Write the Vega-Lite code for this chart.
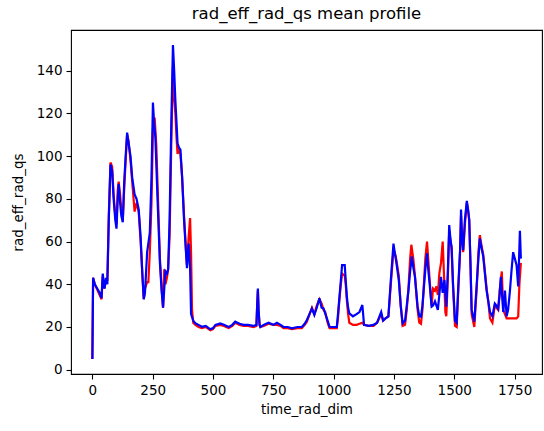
{
  "$schema": "https://vega.github.io/schema/vega-lite/v6.json",
  "width": 471,
  "height": 344,
  "autosize": {"type": "none"},
  "padding": {"left": 71, "top": 30, "right": 2, "bottom": 57},
  "background": "white",
  "title": {"text": "rad_eff_rad_qs mean profile", "font": "DejaVu Sans", "fontSize": 16.5, "fontWeight": "normal", "color": "#000", "offset": 8, "anchor": "middle"},
  "config": {
    "view": {"stroke": "#000", "strokeWidth": 1.1},
    "axis": {"domain": false, "grid": false, "tickColor": "#000", "tickSize": 5, "tickWidth": 1.1, "labelFont": "DejaVu Sans", "labelFontSize": 13.5, "labelColor": "#000", "titleFont": "DejaVu Sans", "titleFontSize": 13.5, "titleFontWeight": "normal", "titleColor": "#000", "labelPadding": 4}
  },
  "datasets": {
    "blue": [
      {"t":0,"v":5},{"t":3,"v":43},{"t":10,"v":40},{"t":20,"v":38},{"t":30,"v":36},{"t":38,"v":33.5},{"t":43,"v":45},{"t":50,"v":38},{"t":57,"v":43},{"t":62,"v":40},{"t":68,"v":70},{"t":75,"v":96},{"t":82,"v":93},{"t":88,"v":80},{"t":95,"v":70},{"t":100,"v":66},{"t":105,"v":80},{"t":109,"v":87},{"t":115,"v":78},{"t":120,"v":72},{"t":126,"v":69},{"t":132,"v":88},{"t":138,"v":100},{"t":144,"v":111},{"t":150,"v":106},{"t":158,"v":100},{"t":165,"v":90},{"t":175,"v":82},{"t":183,"v":80},{"t":192,"v":75},{"t":200,"v":62},{"t":207,"v":45},{"t":213,"v":33},{"t":218,"v":36},{"t":227,"v":55},{"t":238,"v":64},{"t":245,"v":90},{"t":251,"v":125},{"t":256,"v":115},{"t":261,"v":109},{"t":270,"v":80},{"t":280,"v":50},{"t":287,"v":37},{"t":293,"v":29},{"t":298,"v":38},{"t":303,"v":46},{"t":309,"v":45},{"t":314,"v":47},{"t":320,"v":70},{"t":327,"v":115},{"t":334,"v":152},{"t":339,"v":140},{"t":344,"v":126},{"t":349,"v":115},{"t":353,"v":106},{"t":359,"v":104},{"t":365,"v":103},{"t":372,"v":90},{"t":380,"v":70},{"t":388,"v":55},{"t":392,"v":47.5},{"t":399,"v":59},{"t":405,"v":47.5},{"t":409,"v":26},{"t":418,"v":23},{"t":427,"v":21.7},{"t":440,"v":21},{"t":454,"v":20.1},{"t":470,"v":20.5},{"t":489,"v":18.9},{"t":500,"v":19.5},{"t":510,"v":21},{"t":530,"v":21.7},{"t":545,"v":21},{"t":565,"v":20},{"t":580,"v":21},{"t":592,"v":22.5},{"t":610,"v":21.5},{"t":627,"v":21},{"t":645,"v":21},{"t":668,"v":20.5},{"t":680,"v":21},{"t":683,"v":30},{"t":686,"v":38},{"t":689,"v":28},{"t":693,"v":21},{"t":696,"v":20},{"t":710,"v":21},{"t":730,"v":22},{"t":750,"v":21},{"t":765,"v":22},{"t":780,"v":21},{"t":792,"v":20},{"t":810,"v":20},{"t":827,"v":19.4},{"t":850,"v":20},{"t":868,"v":20},{"t":880,"v":21.5},{"t":889,"v":23.3},{"t":900,"v":26},{"t":910,"v":28.7},{"t":920,"v":25.6},{"t":930,"v":29},{"t":941,"v":33.4},{"t":950,"v":29},{"t":958,"v":28.7},{"t":965,"v":26.4},{"t":975,"v":23},{"t":983,"v":20.1},{"t":1000,"v":20},{"t":1013,"v":20},{"t":1018,"v":26},{"t":1024,"v":34},{"t":1030,"v":42},{"t":1035,"v":49},{"t":1046,"v":49},{"t":1050,"v":42},{"t":1055,"v":34},{"t":1060,"v":29},{"t":1065,"v":26.4},{"t":1080,"v":25},{"t":1095,"v":26},{"t":1107,"v":27},{"t":1119,"v":30.3},{"t":1126,"v":21},{"t":1145,"v":20.5},{"t":1165,"v":21},{"t":1180,"v":22},{"t":1197,"v":27},{"t":1205,"v":23},{"t":1215,"v":24},{"t":1227,"v":25},{"t":1237,"v":42},{"t":1248,"v":59},{"t":1253,"v":55},{"t":1259,"v":51},{"t":1270,"v":42},{"t":1278,"v":30},{"t":1286,"v":21.7},{"t":1296,"v":23},{"t":1303,"v":30},{"t":1310,"v":37},{"t":1317,"v":46},{"t":1324,"v":53},{"t":1330,"v":48},{"t":1337,"v":43.5},{"t":1348,"v":29.5},{"t":1355,"v":25},{"t":1362,"v":24.8},{"t":1368,"v":30},{"t":1373,"v":37},{"t":1380,"v":47},{"t":1387,"v":54.5},{"t":1392,"v":47},{"t":1398,"v":40},{"t":1406,"v":29.5},{"t":1412,"v":30},{"t":1420,"v":32},{"t":1426,"v":30},{"t":1432,"v":28},{"t":1438,"v":35},{"t":1445,"v":43.5},{"t":1452,"v":36},{"t":1459,"v":42},{"t":1467,"v":29.5},{"t":1473,"v":45},{"t":1479,"v":67.7},{"t":1485,"v":60},{"t":1489,"v":57.6},{"t":1495,"v":40},{"t":1503,"v":23},{"t":1510,"v":22},{"t":1517,"v":40},{"t":1524,"v":56},{"t":1528,"v":75},{"t":1532,"v":62},{"t":1537,"v":56},{"t":1544,"v":70},{"t":1552,"v":79},{"t":1557,"v":75},{"t":1562,"v":70},{"t":1567,"v":50},{"t":1572,"v":28},{"t":1583,"v":22.5},{"t":1593,"v":40},{"t":1600,"v":52},{"t":1606,"v":61.5},{"t":1613,"v":57},{"t":1620,"v":53},{"t":1627,"v":45},{"t":1634,"v":37},{"t":1641,"v":32},{"t":1648,"v":27},{"t":1658,"v":25},{"t":1668,"v":31},{"t":1675,"v":30},{"t":1682,"v":28.5},{"t":1688,"v":35},{"t":1693,"v":43.5},{"t":1698,"v":35},{"t":1703,"v":27},{"t":1710,"v":37},{"t":1717,"v":25},{"t":1723,"v":28},{"t":1730,"v":36},{"t":1737,"v":46},{"t":1744,"v":55},{"t":1751,"v":52},{"t":1758,"v":49},{"t":1765,"v":39},{"t":1772,"v":65},{"t":1776,"v":52}
    ],
    "red": [
      {"t":0,"v":5},{"t":3,"v":43},{"t":10,"v":40},{"t":20,"v":37.5},{"t":30,"v":35},{"t":38,"v":33},{"t":43,"v":44},{"t":50,"v":38},{"t":57,"v":42},{"t":62,"v":42},{"t":68,"v":72},{"t":75,"v":97},{"t":82,"v":95},{"t":88,"v":82},{"t":95,"v":72},{"t":100,"v":68},{"t":105,"v":84},{"t":109,"v":88},{"t":115,"v":82},{"t":120,"v":75},{"t":126,"v":70},{"t":132,"v":85},{"t":138,"v":98},{"t":144,"v":110},{"t":150,"v":107},{"t":158,"v":98},{"t":165,"v":88},{"t":175,"v":74},{"t":183,"v":78},{"t":192,"v":74},{"t":200,"v":60},{"t":207,"v":45},{"t":213,"v":33},{"t":218,"v":38},{"t":227,"v":41},{"t":232,"v":41},{"t":238,"v":55},{"t":245,"v":78},{"t":251,"v":112},{"t":258,"v":118},{"t":265,"v":105},{"t":272,"v":80},{"t":280,"v":52},{"t":287,"v":38},{"t":293,"v":29},{"t":298,"v":47},{"t":303,"v":40},{"t":309,"v":43},{"t":314,"v":47},{"t":320,"v":62},{"t":327,"v":105},{"t":334,"v":142},{"t":340,"v":126},{"t":344,"v":120},{"t":349,"v":108},{"t":353,"v":101},{"t":359,"v":103},{"t":365,"v":101},{"t":372,"v":90},{"t":380,"v":72},{"t":388,"v":56},{"t":392,"v":49},{"t":399,"v":62},{"t":405,"v":71},{"t":409,"v":55},{"t":413,"v":28},{"t":418,"v":22},{"t":427,"v":21},{"t":440,"v":20},{"t":454,"v":19.5},{"t":470,"v":20},{"t":489,"v":18.5},{"t":500,"v":19},{"t":510,"v":20.5},{"t":530,"v":21},{"t":545,"v":20.5},{"t":565,"v":19.5},{"t":580,"v":20.5},{"t":592,"v":22},{"t":610,"v":21},{"t":627,"v":20.5},{"t":645,"v":20.5},{"t":668,"v":20},{"t":680,"v":20.5},{"t":683,"v":30},{"t":686,"v":37},{"t":689,"v":27},{"t":693,"v":21},{"t":696,"v":20},{"t":710,"v":20.5},{"t":730,"v":21.5},{"t":750,"v":21},{"t":765,"v":21},{"t":780,"v":20.5},{"t":792,"v":19.5},{"t":810,"v":19.5},{"t":827,"v":19},{"t":850,"v":19.5},{"t":868,"v":19.5},{"t":880,"v":21},{"t":889,"v":22.5},{"t":900,"v":26},{"t":910,"v":29},{"t":920,"v":26},{"t":930,"v":30},{"t":941,"v":33},{"t":950,"v":31},{"t":958,"v":28},{"t":965,"v":27},{"t":975,"v":22},{"t":983,"v":19.5},{"t":1000,"v":19.5},{"t":1013,"v":19.5},{"t":1018,"v":24},{"t":1024,"v":33},{"t":1030,"v":40},{"t":1035,"v":45},{"t":1046,"v":44},{"t":1050,"v":40},{"t":1055,"v":32},{"t":1060,"v":26},{"t":1065,"v":22},{"t":1080,"v":21},{"t":1095,"v":21},{"t":1107,"v":21.5},{"t":1119,"v":22},{"t":1126,"v":21},{"t":1145,"v":20.5},{"t":1165,"v":20.5},{"t":1180,"v":22},{"t":1197,"v":26},{"t":1205,"v":23},{"t":1215,"v":24},{"t":1227,"v":25},{"t":1237,"v":40},{"t":1248,"v":56},{"t":1253,"v":55},{"t":1259,"v":52},{"t":1270,"v":44},{"t":1278,"v":30},{"t":1286,"v":20.5},{"t":1296,"v":21},{"t":1303,"v":28},{"t":1310,"v":38},{"t":1317,"v":52},{"t":1322,"v":58.5},{"t":1330,"v":52},{"t":1337,"v":44},{"t":1348,"v":28},{"t":1355,"v":22},{"t":1362,"v":21.5},{"t":1368,"v":28},{"t":1373,"v":38},{"t":1380,"v":52},{"t":1387,"v":60},{"t":1392,"v":52},{"t":1398,"v":42},{"t":1406,"v":30},{"t":1412,"v":38},{"t":1420,"v":37},{"t":1426,"v":39},{"t":1432,"v":35},{"t":1438,"v":45},{"t":1445,"v":50},{"t":1452,"v":60},{"t":1459,"v":40},{"t":1463,"v":27},{"t":1467,"v":25},{"t":1473,"v":42},{"t":1479,"v":65},{"t":1485,"v":60},{"t":1489,"v":56},{"t":1495,"v":38},{"t":1503,"v":20.5},{"t":1510,"v":20},{"t":1517,"v":38},{"t":1524,"v":55},{"t":1528,"v":72},{"t":1532,"v":62},{"t":1537,"v":55},{"t":1544,"v":68},{"t":1552,"v":78},{"t":1557,"v":75},{"t":1562,"v":70},{"t":1567,"v":50},{"t":1572,"v":26},{"t":1583,"v":20},{"t":1593,"v":38},{"t":1600,"v":55},{"t":1606,"v":63},{"t":1613,"v":58},{"t":1620,"v":54},{"t":1627,"v":46},{"t":1634,"v":38},{"t":1641,"v":32},{"t":1648,"v":24},{"t":1658,"v":22},{"t":1668,"v":30},{"t":1675,"v":29},{"t":1682,"v":28},{"t":1688,"v":37},{"t":1697,"v":46},{"t":1703,"v":28},{"t":1710,"v":26},{"t":1717,"v":24},{"t":1723,"v":24},{"t":1730,"v":24},{"t":1744,"v":24},{"t":1758,"v":24},{"t":1765,"v":25},{"t":1770,"v":40},{"t":1776,"v":50}
    ]
  },
  "encoding": {
    "x": {"field": "t", "type": "quantitative", "title": "time_rad_dim", "scale": {"domain": [-88.6, 1863.6], "nice": false, "zero": false}, "axis": {"values": [0,250,500,750,1000,1250,1500,1750], "format": "d", "titlePadding": 6}},
    "y": {"field": "v", "type": "quantitative", "title": "rad_eff_rad_qs", "scale": {"domain": [-2, 159], "nice": false, "zero": false}, "axis": {"values": [0,20,40,60,80,100,120,140], "format": "d", "titlePadding": 11}}
  },
  "layer": [
    {"data": {"name": "red"}, "mark": {"type": "line", "color": "#ff0000", "strokeWidth": 2.2, "clip": true}},
    {"data": {"name": "blue"}, "mark": {"type": "line", "color": "#0000ff", "strokeWidth": 2.2, "clip": true}}
  ]
}
